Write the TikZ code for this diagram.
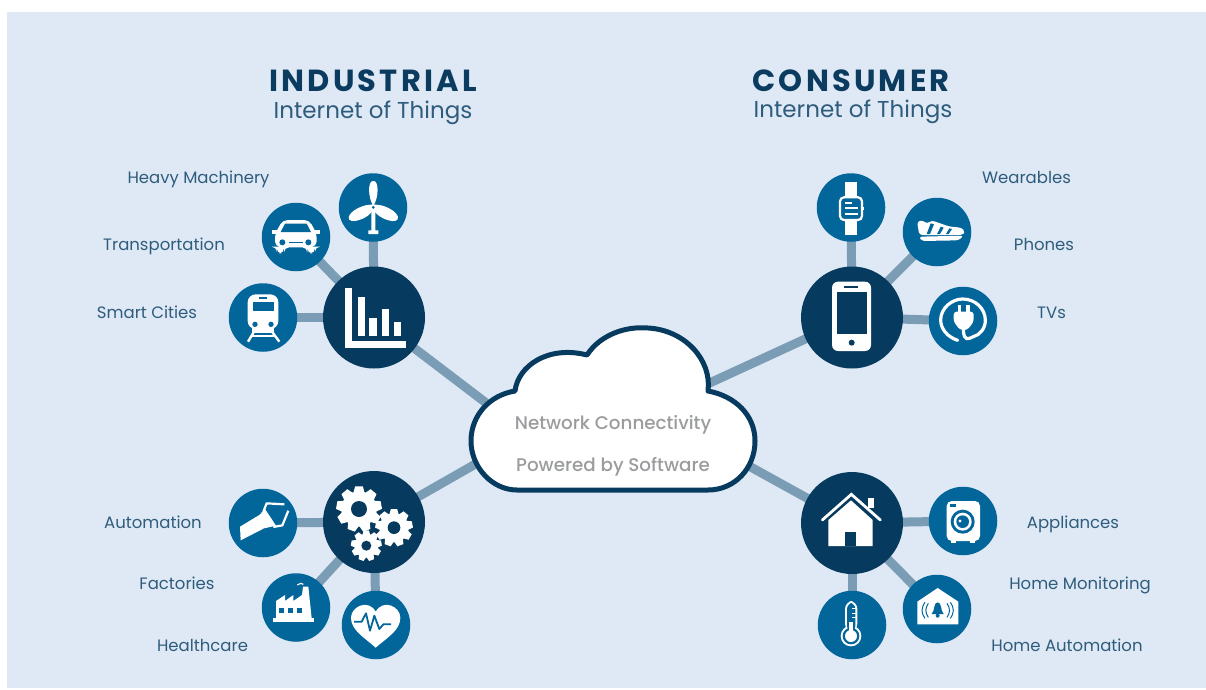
\documentclass[tikz,border=0pt]{standalone}
\usepackage{fontspec}
\setmainfont{Poppins}
\newfontfamily\cloudfont{Poppins Medium}
\usetikzlibrary{backgrounds}
\definecolor{panel}{HTML}{DEE9F5}
\definecolor{hub}{HTML}{063A5E}
\definecolor{sub}{HTML}{03669B}
\definecolor{link}{HTML}{7A9CB4}
\definecolor{labelc}{HTML}{2F5C7C}
\definecolor{titlec}{HTML}{0B3C60}
\definecolor{cloudtext}{HTML}{9A9C9E}
\tikzset{
  hubnode/.style={circle,fill=hub,minimum size=102pt,inner sep=0pt},
  subnode/.style={circle,fill=sub,minimum size=68.5pt,inner sep=0pt},
  linkline/.style={draw=link,line width=9pt},
  lab/.style={text=labelc,font=\fontsize{16.5}{18}\selectfont,inner sep=0pt,anchor=base},
  ttl/.style={text=titlec,font=\fontsize{30.5}{32}\bfseries\addfontfeatures{LetterSpace=10.5}\selectfont,inner sep=0pt,anchor=base},
  subttl/.style={text=labelc,font=\fontsize{23}{25}\selectfont,inner sep=0pt,anchor=base},
  cloudlab/.style={text=cloudtext,font=\cloudfont\fontsize{18.3}{20}\selectfont,inner sep=0pt,anchor=base},
  zone/.style={shift={#1},scale=1/3}
}
\newcommand{\cogwheel}[5]{%
  \fill[white] (#1,#2) circle ({#3*0.78});
  \foreach \k in {1,...,#5}{
    \fill[white,shift={(#1,#2)},rotate=\k*360/#5+10]
      ({0.7*#3},{-0.25*#3}) -- ({#3},{-0.17*#3}) -- ({#3},{0.17*#3}) -- ({0.7*#3},{0.25*#3}) -- cycle;
  }
  \fill[hub] (#1,#2) circle (#4);
}
\begin{document}
\begin{tikzpicture}[x=1pt,y=-1pt]
\useasboundingbox (0,0) rectangle (1206,689);

% nodes
\node[hubnode] (ind) at (374,317.5) {};
\node[hubnode] (gears) at (374,522) {};
\node[hubnode] (phone) at (852,317.5) {};
\node[hubnode] (house) at (852,523) {};
\node[subnode] (wind) at (373,207.5) {};
\node[subnode] (car) at (296,237) {};
\node[subnode] (train) at (263,317.5) {};
\node[subnode] (robot) at (263,523) {};
\node[subnode] (factory) at (296,607.5) {};
\node[subnode] (heart) at (376,625) {};
\node[subnode] (watch) at (851,207.5) {};
\node[subnode] (shoe) at (937,232) {};
\node[subnode] (plug) at (963,321) {};
\node[subnode] (washer) at (963,521) {};
\node[subnode] (bell) at (937,609) {};
\node[subnode] (thermo) at (852,625) {};
\coordinate (cloudA) at (500,413.5);
\coordinate (cloudB) at (500,450);
\coordinate (cloudC) at (690,392);
\coordinate (cloudD) at (720,450);

% connectors
\begin{scope}[on background layer]
\fill[white] (0,0) rectangle (1206,689);
\fill[panel] (7,12) rectangle (1206,688);
\draw[linkline] (ind.center) -- (cloudA);
\draw[linkline] (gears.center) -- (cloudB);
\draw[linkline] (phone.center) -- (cloudC);
\draw[linkline] (house.center) -- (cloudD);
\draw[linkline] (ind.center) -- (wind.center);
\draw[linkline] (ind.center) -- (car.center);
\draw[linkline] (ind.center) -- (train.center);
\draw[linkline] (gears.center) -- (robot.center);
\draw[linkline] (gears.center) -- (factory.center);
\draw[linkline] (gears.center) -- (heart.center);
\draw[linkline] (phone.center) -- (watch.center);
\draw[linkline] (phone.center) -- (shoe.center);
\draw[linkline] (phone.center) -- (plug.center);
\draw[linkline] (house.center) -- (washer.center);
\draw[linkline] (house.center) -- (bell.center);
\draw[linkline] (house.center) -- (thermo.center);
\end{scope}

% cloud
\draw[draw=hub,line width=5pt,fill=white,line join=round]
  (515,391) .. controls (518,366) and (548,345) .. (587,355)
  .. controls (600,335) and (625,326) .. (648,328)
  .. controls (685,330) and (712,360) .. (708,391)
  .. controls (735,396) and (755,415) .. (755,441)
  .. controls (755,468) and (735,490) .. (708,490)
  -- (517,490)
  .. controls (492,490) and (471,467) .. (471,441)
  .. controls (471,415) and (490,395) .. (515,391) -- cycle;
\node[cloudlab] (t1) at (613,429.5) {Network Connectivity};
\node[cloudlab] (t2) at (613,471) {Powered by Software};

% titles
\node[ttl] (tA) at (373,91) {INDUSTRIAL};
\node[subttl] (tB) at (373,118) {Internet of Things};
\node[ttl] (tC) at (851,91) {CONSUMER};
\node[subttl] (tD) at (853,117) {Internet of Things};

% labels
\node[lab] (l1) at (198.5,183) {Heavy Machinery};
\node[lab] (l2) at (164,250) {Transportation};
\node[lab] (l3) at (147,318) {Smart Cities};
\node[lab] (l4) at (153,528) {Automation};
\node[lab] (l5) at (177,589) {Factories};
\node[lab] (l6) at (202.5,651) {Healthcare};
\node[lab] (l7) at (1026.5,183) {Wearables};
\node[lab] (l8) at (1044,250) {Phones};
\node[lab] (l9) at (1051.5,318) {TVs};
\node[lab] (l10) at (1073,528) {Appliances};
\node[lab] (l11) at (1080,589) {Home Monitoring};
\node[lab] (l12) at (1067,651) {Home Automation};

% upper-left icons
\begin{scope}[zone={(220,165)}]
% turbine
\fill[white] (454,127) -- (454,196) -- (445,196) -- (445,207) -- (475,207) -- (475,196) -- (466,196) -- (466,127) -- cycle;
\fill[white] (460,122) .. controls (444,100) and (442,46) .. (460,48) .. controls (478,46) and (476,100) .. (460,122) -- cycle;
\fill[white] (455,119) .. controls (430,118) and (392,136) .. (386,156) .. controls (384,170) and (402,170) .. (414,166) .. controls (437,160) and (454,147) .. (459,133) -- cycle;
\fill[white] (465,119) .. controls (490,118) and (528,136) .. (534,156) .. controls (536,170) and (518,170) .. (506,166) .. controls (483,160) and (466,147) .. (461,133) -- cycle;
\fill[white] (460,127) circle (10);
\fill[sub] (460,127) circle (4.5);
% car
\fill[white,rounded corners=5] (188,165) -- (268,165) -- (290,207) -- (290,245) -- (285,245) -- (285,265) -- (262,265) -- (262,247) -- (192,247) -- (192,265) -- (170,265) -- (170,245) -- (165,245) -- (165,207) -- cycle;
\fill[white] (155,195) -- (175,195) -- (175,206) -- (155,206) -- cycle;
\fill[white] (280,195) -- (300,195) -- (300,206) -- (280,206) -- cycle;
\fill[sub] (195,176) -- (260,176) -- (273,201) -- (182,201) -- cycle;
\fill[sub] (187,232) circle (9);
\fill[sub] (265,232) circle (9);
\fill[sub] (206,230) rectangle (250,235);
% train
\fill[white,rounded corners=8] (83,388) rectangle (175,492);
\fill[white] (95,490) rectangle (163,505);
\fill[sub] (98,411) rectangle (161,438);
\fill[sub] (118,397) rectangle (141,403);
\fill[sub] (105,478) circle (8);
\fill[sub] (153,478) circle (8);
\draw[white,line width=2.4pt] (102,500) -- (84,530) (156,500) -- (178,530);
\draw[white,line width=2pt] (95,514) -- (165,514);
% chart
\fill[white] (375,368) rectangle (397,528);
\fill[white] (375,528) rectangle (557,548);
\fill[white] (413,397) rectangle (435,513);
\fill[white] (448,458) rectangle (470,513);
\fill[white] (485,433) rectangle (507,513);
\fill[white] (522,470) rectangle (544,513);
\end{scope}

% lower-left icons
\begin{scope}[zone={(220,465)}]
% robot
\fill[white] (60,185) -- (118,150) -- (135,132) -- (168,182) -- (132,190) -- (62,226) -- cycle;
\draw[white,line width=2.2pt,line join=round] (130,140) -- (140,115) -- (193,118);
\draw[white,line width=2.2pt,line join=round] (160,186) -- (187,181) -- (205,137);
% gears
\cogwheel{417}{132}{68}{24}{9}
\cogwheel{522}{188}{56}{19}{9}
\cogwheel{439}{242}{46}{15}{9}
% factory
\fill[white] (158,458) rectangle (283,472);
\fill[white] (168,460) -- (168,408) -- (195,390) -- (195,408) -- (220,390) -- (220,408) -- (246,390) -- (249,365) -- (265,365) -- (275,460) -- cycle;
\fill[sub] (178,430) rectangle (191,444);
\fill[sub] (205,430) rectangle (218,444);
\fill[sub] (232,430) rectangle (245,444);
\draw[white,line width=1.2pt] (232,360) -- (242,355) -- (250,358);
% heart
\fill[white] (467,548) .. controls (430,515) and (393,495) .. (393,458)
  .. controls (393,425) and (445,400) .. (467,440)
  .. controls (490,400) and (541,425) .. (541,458)
  .. controls (541,495) and (505,515) .. (467,548) -- cycle;
\draw[sub,line width=1.8pt,line join=round] (402,470) -- (425,470) -- (438,445) -- (450,497) -- (463,452) -- (478,492) -- (490,478) -- (513,478);
\end{scope}

% upper-right icons
\begin{scope}[zone={(790,165)}]
% watch
\fill[white] (164,50) rectangle (200,96);
\fill[white] (164,165) rectangle (200,210);
\draw[white,line width=2.2pt,fill=sub,rounded corners=4] (150,97) rectangle (216,165);
\fill[white] (216,127) rectangle (222,135);
\fill[white] (165,110) rectangle (187,116);
\fill[white] (165,127) rectangle (203,133);
\fill[white] (165,144) rectangle (203,150);
% shoe
\fill[white,rounded corners=3] (381,170) -- (398,165) -- (410,177) -- (425,166) -- (450,175) -- (480,185) -- (515,188) -- (525,200) -- (518,210) -- (388,210) -- cycle;
\fill[white,rounded corners=3] (387,215) -- (521,212) -- (506,226) -- (395,228) -- cycle;
\fill[sub] (422,175) -- (432,178) -- (420,207) -- (410,207) -- cycle;
\fill[sub] (452,185) -- (461,188) -- (450,207) -- (441,207) -- cycle;
\fill[sub] (478,190) -- (486,192) -- (476,207) -- (468,207) -- cycle;
% phone
\fill[white,rounded corners=6] (126,350) rectangle (243,558);
\fill[hub] (140,380) rectangle (230,508);
\fill[hub] (162,362) rectangle (205,369);
\fill[hub] (185,533) circle (9);
% plug
\draw[white,line width=3.2pt,line cap=round] (503,526) .. controls (470,515) and (452,490) .. (452,465)
  .. controls (452,430) and (485,402) .. (518,402)
  .. controls (555,402) and (586,430) .. (586,466)
  .. controls (586,490) and (570,510) .. (550,515) .. controls (535,522) and (522,530) .. (520,495);
\fill[white] (503,420) rectangle (513,445);
\fill[white] (529,420) rectangle (539,445);
\fill[white,rounded corners=3] (491,440) -- (551,440) -- (551,470) -- (532,495) -- (510,495) -- (491,470) -- cycle;
\end{scope}

% lower-right icons
\begin{scope}[zone={(790,465)}]
% house
\fill[white] (115,165) -- (183,106) -- (248,165) -- (248,243) -- (115,243) -- cycle;
\fill[hub] (166,200) rectangle (198,243);
\draw[white,line width=2.8pt,line cap=round,line join=miter] (97,165) -- (184,88) -- (271,165);
\fill[white] (235,100) rectangle (253,128);
% washer
\fill[white,rounded corners=5] (470,108) rectangle (570,228);
\fill[white] (482,225) rectangle (498,235);
\fill[white] (540,225) rectangle (556,235);
\fill[sub] (518,170) circle (36);
\fill[white] (518,170) circle (27);
\fill[sub] (518,170) circle (19);
\fill[white] (510,168) circle (5);
\fill[sub] (480,118) rectangle (499,126);
% bell tag
\fill[white] (382,410) -- (443,369) -- (505,410) -- (505,478) -- (382,478) -- cycle;
\fill[sub] (443,412) .. controls (430,412) and (435,438) .. (425,447) -- (461,447) .. controls (451,438) and (456,412) .. (443,412) -- cycle;
\fill[sub] (443,452) circle (6);
\draw[sub,line width=1pt] (415,415) .. controls (405,430) and (405,442) .. (415,457);
\draw[sub,line width=1pt] (405,412) .. controls (393,430) and (393,442) .. (405,460);
\draw[sub,line width=1pt] (471,415) .. controls (481,430) and (481,442) .. (471,457);
\draw[sub,line width=1pt] (481,412) .. controls (493,430) and (493,442) .. (481,460);
% thermometer
\fill[white,rounded corners=8] (165,408) rectangle (202,500);
\fill[white] (183,513) circle (31);
\fill[sub,rounded corners=6] (171,414) rectangle (196,500);
\fill[sub] (183,513) circle (25);
\fill[white] (183,513) circle (18);
\fill[white] (177,470) rectangle (189,505);
\foreach \yy in {430,443,456}{\fill[white] (185,\yy) rectangle (197,\yy+3);}
\end{scope}
\end{tikzpicture}
\end{document}
